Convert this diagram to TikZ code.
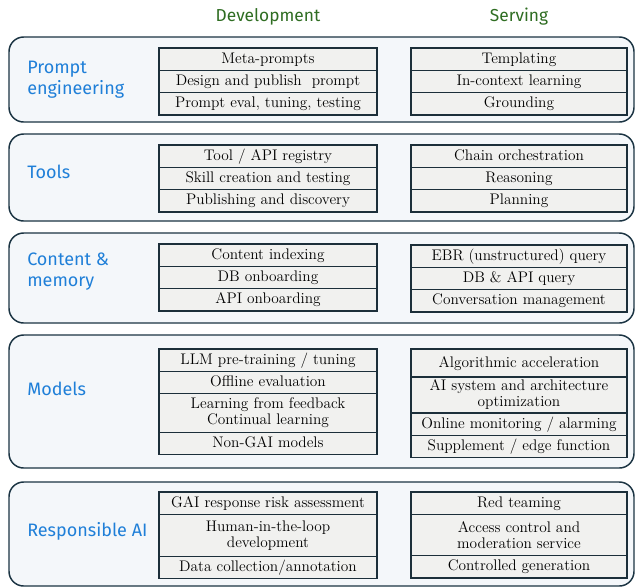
\documentclass[tikz,border=0pt]{standalone}
\usepackage{fontspec}
\usetikzlibrary{positioning}
\newfontfamily\areafont{Fira Sans}
\definecolor{panelfill}{HTML}{F4F7FA}
\definecolor{panelline}{HTML}{1A3342}
\definecolor{cellfill}{HTML}{F1F1EF}
\definecolor{cellline}{HTML}{1C2F3A}
\definecolor{areablue}{HTML}{1F7FD8}
\definecolor{headgreen}{HTML}{2F6D22}
\tikzset{
  panel/.style={draw=panelline, fill=panelfill, line width=1.1pt, rounded corners=11pt},
  cell/.style={draw=cellline, fill=cellfill, line width=0.9pt, inner sep=0pt, outer sep=0pt,
    align=center, minimum height=16.75pt, text height=8pt, text depth=2pt,
    font=\fontsize{11.5}{12}\selectfont},
  dev/.style={cell, minimum width=163.5pt},
  srv/.style={cell, minimum width=162pt},
  twoline/.style={text height={}, text depth={}, minimum height=#1},
  area/.style={text=areablue, anchor=west, align=left, inner sep=0pt,
    font=\areafont\fontsize{13.5}{15.75}\selectfont},
  head/.style={text=headgreen, font=\areafont\fontsize{13}{15}\selectfont}
}
\begin{document}
\begin{tikzpicture}[x=0.75pt,y=-0.75pt]
\useasboundingbox (0,0) rectangle (636,587);
\node[head] (hdev) at (268,17) {Development};
\node[head] (hsrv) at (519,17) {Serving};

% prompt engineering
\draw[panel] (9,37) rectangle (634,122);
\node[area] (prompt) at (27,79.5) {Prompt\\engineering};
\node[dev, anchor=north] (d11) at (268,48) {Meta-prompts};
\node[dev, below=0pt of d11] (d12) {Design and publish\ \ prompt};
\node[dev, below=0pt of d12] (d13) {Prompt eval, tuning, testing};
\node[srv, anchor=north] (s11) at (519,48) {Templating};
\node[srv, below=0pt of s11] (s12) {In-context learning};
\node[srv, below=0pt of s12] (s13) {Grounding};

% tools
\draw[panel] (9,134) rectangle (634,221);
\node[area] (tools) at (27,172) {Tools};
\node[dev, anchor=north] (d21) at (268,145) {Tool / API registry};
\node[dev, below=0pt of d21] (d22) {Skill creation and testing};
\node[dev, below=0pt of d22] (d23) {Publishing and discovery};
\node[srv, anchor=north] (s21) at (519,145) {Chain orchestration};
\node[srv, below=0pt of s21] (s22) {Reasoning};
\node[srv, below=0pt of s22] (s23) {Planning};

% content and memory
\draw[panel] (9,233) rectangle (634,323);
\node[area] (content) at (27,271.5) {Content \&\\memory};
\node[dev, anchor=north] (d31) at (268,244) {Content indexing};
\node[dev, below=0pt of d31] (d32) {DB onboarding};
\node[dev, below=0pt of d32] (d33) {API onboarding};
\node[srv, anchor=north] (s31) at (519,245) {EBR (unstructured) query};
\node[srv, below=0pt of s31] (s32) {DB \& API query};
\node[srv, below=0pt of s32] (s33) {Conversation management};

% models
\draw[panel] (9,335) rectangle (634,468);
\node[area] (models) at (27,389) {Models};
\node[dev, anchor=north] (d41) at (268,349) {LLM pre-training / tuning};
\node[dev, below=0pt of d41] (d42) {Offline evaluation};
\node[dev, below=0pt of d42, twoline=29pt] (d43) {Learning from feedback\\Continual learning};
\node[dev, below=0pt of d43] (d44) {Non-GAI models};
\node[srv, anchor=north, minimum height=21pt] (s41) at (519,349) {Algorithmic acceleration};
\node[srv, below=0pt of s41, twoline=27pt] (s42) {AI system and architecture\\optimization};
\node[srv, below=0pt of s42] (s43) {Online monitoring / alarming};
\node[srv, below=0pt of s43] (s44) {Supplement / edge function};

% responsible AI
\draw[panel] (9,482) rectangle (634,586);
\node[area] (resp) at (27,531) {Responsible AI};
\node[dev, anchor=north] (d51) at (268,492) {GAI response risk assessment};
\node[dev, below=0pt of d51, twoline=31.5pt] (d52) {Human-in-the-loop\\development};
\node[dev, below=0pt of d52] (d53) {Data collection/annotation};
\node[srv, anchor=north] (s51) at (519,492) {Red teaming};
\node[srv, below=0pt of s51, twoline=31pt] (s52) {Access control and\\moderation service};
\node[srv, below=0pt of s52] (s53) {Controlled generation};
\end{tikzpicture}
\end{document}
